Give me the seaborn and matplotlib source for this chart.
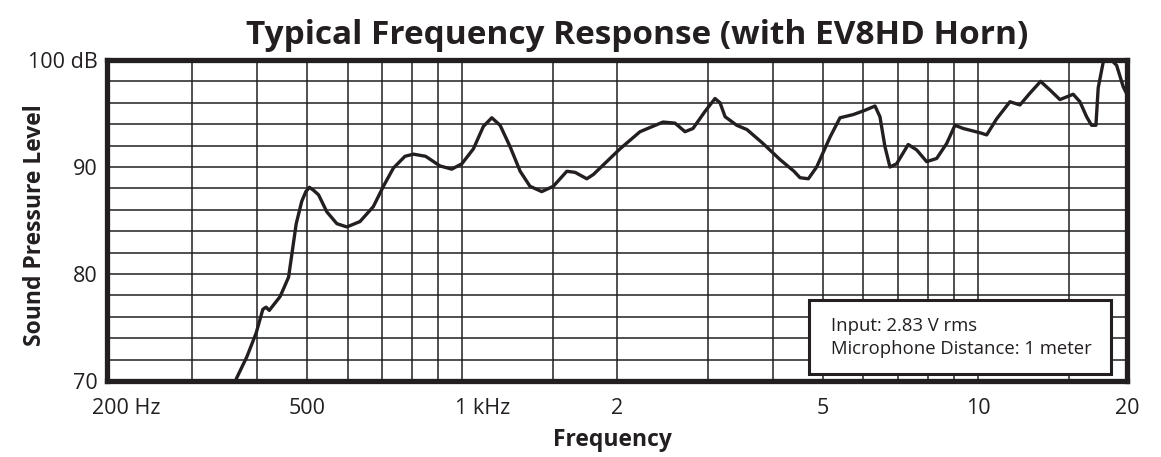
import numpy as np
import pandas as pd
import matplotlib
matplotlib.use("Agg")
import matplotlib.pyplot as plt
import matplotlib.transforms as mtransforms
from matplotlib.patches import Rectangle
import seaborn as sns

# Frequency response (Hz, dB SPL)
freq_hz = [365, 383, 399, 411, 417, 423, 444, 461, 468, 477, 489, 498, 506,
           516, 527, 547, 572, 598, 634, 673, 704, 736, 775, 805, 850, 906,
           955, 999, 1052, 1100, 1142, 1185, 1239, 1296, 1354, 1427, 1503,
           1596, 1656, 1745, 1797, 1907, 2024, 2213, 2452, 2587, 2705, 2803,
           2958, 3093, 3163, 3235, 3407, 3566, 3831, 4132, 4400, 4519, 4691,
           4868, 5168, 5403, 5732, 6039, 6316, 6457, 6603, 6752, 6956, 7325,
           7605, 7954, 8318, 8698, 9024, 9365, 10090, 10397, 10870, 11535,
           12061, 12612, 13227, 13789, 14418, 15298, 15763, 16240, 16607,
           16931, 17104, 17491, 17886, 18570, 19125, 19445]
spl_db = [70.2, 72.3, 74.5, 76.7, 76.9, 76.6, 77.9, 79.7, 81.9, 84.7, 86.8, 87.7,
          88.1, 87.8, 87.4, 85.8, 84.7, 84.4, 84.9, 86.3, 88.2, 89.9, 91.0,
          91.2, 91.0, 90.1, 89.8, 90.3, 91.7, 93.8, 94.6, 93.9, 91.9, 89.6,
          88.2, 87.7, 88.2, 89.6, 89.5, 88.9, 89.3, 90.5, 91.7, 93.3, 94.2,
          94.1, 93.3, 93.6, 95.2, 96.4, 96.0, 94.7, 93.9, 93.5, 92.2, 90.7,
          89.6, 89.0, 88.9, 90.0, 92.8, 94.6, 94.9, 95.3, 95.7, 94.7, 91.9,
          90.0, 90.3, 92.1, 91.6, 90.5, 90.8, 92.2, 93.9, 93.6, 93.2, 93.0,
          94.5, 96.1, 95.8, 96.9, 98.0, 97.2, 96.3, 96.8, 96.1, 94.7, 93.9,
          93.9, 97.4, 99.8, 100.3, 99.5, 97.5, 96.8]

x_grid = [300, 400, 500, 600, 700, 800, 900, 1000, 1500, 2000, 3000, 4000,
          5000, 6000, 7000, 8000, 9000, 10000, 15000]
x_ticks = [500, 1000, 2000, 5000, 10000]
x_ticklabels = ["500", "1 kHz", "2", "5", "10"]
y_grid = list(range(70, 101, 2))
y_ticks = [70, 80, 90, 100]
y_ticklabels = ["70", "80", "90", "100 dB"]

df = pd.DataFrame({"Frequency": freq_hz, "SPL": spl_db})

ink = "#231f20"
tick_size = 15.5
tick_pad = 12

sns.set_style("white")
plt.rcParams["font.family"] = ["Open Sans", "DejaVu Sans"]

fig = plt.figure(figsize=(11.61, 4.57), dpi=100)
ax = fig.add_axes([107 / 1161, 1 - 381 / 457, 1020 / 1161, 321 / 457])

sns.lineplot(data=df, x="Frequency", y="SPL", ax=ax, color=ink,
             linewidth=2.4, zorder=3)
ax.lines[0].set_solid_joinstyle("round")

ax.set_xscale("log")
ax.set_xlim(205, 19450)
ax.set_ylim(70, 100)

ax.set_xticks(x_grid, minor=True)
ax.set_xticks(x_ticks)
ax.set_xticklabels(x_ticklabels)
ax.set_yticks(y_grid, minor=True)
ax.set_yticks(y_ticks)
ax.set_yticklabels(y_ticklabels)
ax.xaxis.set_minor_formatter(matplotlib.ticker.NullFormatter())
ax.grid(True, which="both", color=ink, linewidth=1.1, zorder=1)
ax.set_axisbelow(True)
ax.tick_params(axis="both", which="both", length=0, labelsize=tick_size,
               colors=ink)
ax.tick_params(axis="x", pad=tick_pad)
ax.tick_params(axis="y", pad=7)

# "1 kHz" sits with its number on the gridline
for lab in ax.get_xticklabels():
    if lab.get_text() == "1 kHz":
        lab.set_transform(lab.get_transform() +
                          mtransforms.ScaledTranslation(0.21, 0, fig.dpi_scale_trans))

# end labels at the frame edges
drop = mtransforms.ScaledTranslation(0, -tick_pad / 72, fig.dpi_scale_trans)
ax.text(0.0, 0.0, "200 Hz", ha="left", va="top", fontsize=tick_size, color=ink,
        transform=ax.transAxes + drop +
        mtransforms.ScaledTranslation(-0.15, 0, fig.dpi_scale_trans))
ax.text(1.0, 0.0, "20", ha="center", va="top", fontsize=tick_size, color=ink,
        transform=ax.transAxes + drop)

for s in ax.spines.values():
    s.set_visible(True)
    s.set_color(ink)
    s.set_linewidth(3.8)
    s.set_zorder(4)

ax.set_xlabel("Frequency", fontsize=16.5, fontweight="bold", color=ink,
              va="center")
ax.xaxis.set_label_coords(0.496, -0.184)
ax.set_ylabel("Sound Pressure Level", fontsize=16.5, fontweight="bold",
              color=ink, va="center")
ax.yaxis.set_label_coords(-0.0706, 0.485)

fig.text(637 / 1161, 1 - 35 / 457, "Typical Frequency Response (with EV8HD Horn)",
         ha="center", va="center", fontsize=24, fontweight="bold", color=ink)

# info box
ax.add_patch(Rectangle((0.688, 0.022), 0.296, 0.230, transform=ax.transAxes,
                       facecolor="white", edgecolor=ink, linewidth=2.2,
                       zorder=5))
ax.text(0.71, 0.171, "Input: 2.83 V rms", transform=ax.transAxes, ha="left",
        va="center", fontsize=13.3, color=ink, zorder=6)
ax.text(0.71, 0.099, "Microphone Distance: 1 meter", transform=ax.transAxes,
        ha="left", va="center", fontsize=13.3, color=ink, zorder=6)

fig.savefig("out.png", dpi=100)
